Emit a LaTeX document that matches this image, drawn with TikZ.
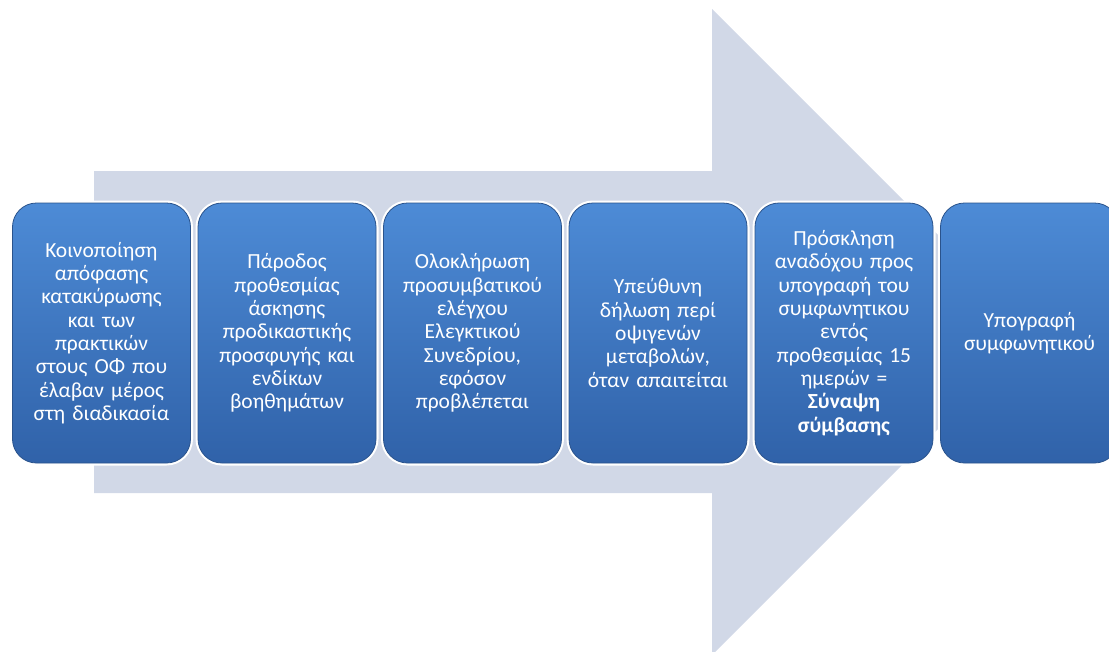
\documentclass[tikz,border=0pt]{standalone}
\usepackage{fontspec}
\setmainfont{Carlito}
\definecolor{arrowgray}{HTML}{D1D8E7}
\definecolor{boxtop}{HTML}{4D8BD6}
\definecolor{boxbot}{HTML}{3062A9}
\definecolor{boxrim}{HTML}{2A538C}
\tikzset{
  stepbox/.style={rounded corners=24pt, minimum width=178pt, minimum height=260pt,
    text width=174pt, align=center, inner sep=0pt, text=white,
    top color=boxtop, bottom color=boxbot, draw=boxrim, line width=0.8pt,
    preaction={draw=white, line width=5pt},
    font=\fontsize{21.5}{23.3}\selectfont}
}
\begin{document}
\begin{tikzpicture}[x=1pt,y=-1pt]
\useasboundingbox (0,0) rectangle (1109,651);
\clip (0,0) rectangle (1109,651);
% big background arrow
\coordinate (a1) at (94,171);
\coordinate (a2) at (712,171);
\coordinate (a3) at (712,9);
\coordinate (tip) at (1035,332);
\coordinate (a5) at (712,655);
\coordinate (a6) at (712,493);
\coordinate (a7) at (94,493);
\fill[arrowgray] (a1) -- (a2) -- (a3) -- (tip) -- (a5) -- (a6) -- (a7) -- cycle;
% step boxes
\node[stepbox] (b1) at (101.5,333) {Κοινοποίηση\\απόφασης\\κατακύρωσης\\και των\\πρακτικών\\στους ΟΦ που\\έλαβαν μέρος\\στη διαδικασία};
\node[stepbox] (b2) at (287,333) {Πάροδος\\προθεσμίας\\άσκησης\\προδικαστικής\\προσφυγής και\\ενδίκων\\βοηθημάτων};
\node[stepbox] (b3) at (472.5,333) {Ολοκλήρωση\\προσυμβατικού\\ελέγχου\\Ελεγκτικού\\Συνεδρίου,\\εφόσον\\προβλέπεται};
\node[stepbox] (b4) at (658,333) {Υπεύθυνη\\δήλωση περί\\οψιγενών\\μεταβολών,\\όταν απαιτείται};
\node[stepbox] (b5) at (844,333) {Πρόσκληση\\αναδόχου προς\\υπογραφή του\\συμφωνητικου\\εντός\\προθεσμίας 15\\ημερών =\\\textbf{Σύναψη}\\\textbf{σύμβασης}};
\node[stepbox] (b6) at (1029.5,333) {\raisebox{-5pt}{\parbox{174pt}{\centering Υπογραφή\\συμφωνητικού}}};
\end{tikzpicture}
\end{document}
